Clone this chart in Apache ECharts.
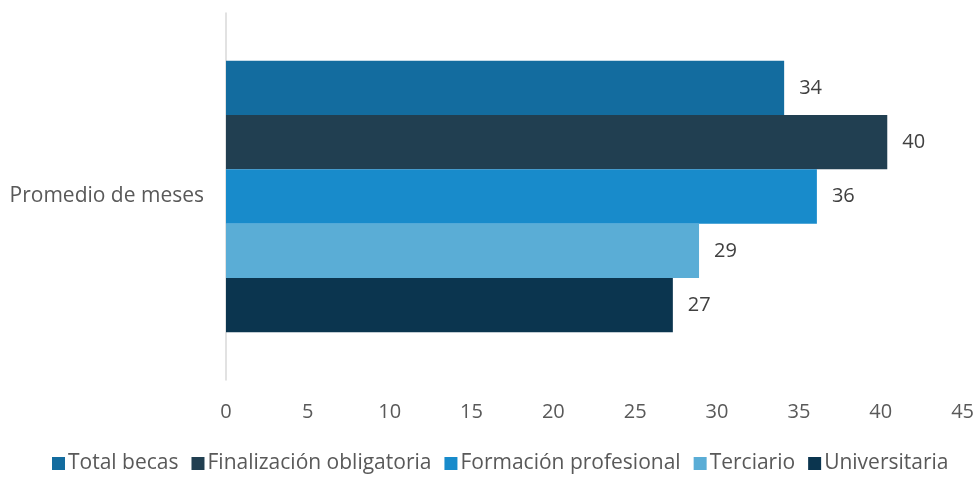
<!DOCTYPE html>
<html>
<head>
<meta charset="utf-8">
<script src="https://cdn.jsdelivr.net/npm/echarts@6/dist/echarts.min.js"></script>
<style>
  html, body { margin: 0; padding: 0; background: #fff; }
  #chart { width: 977px; height: 478px; }
</style>
</head>
<body>
<div id="chart"></div>
<script>
var categories = ['Promedio de meses']
var seriesNames = ['Total becas', 'Finalización obligatoria', 'Formación profesional', 'Terciario', 'Universitaria']
var seriesValues = [34.1, 40.4, 36.1, 28.9, 27.3]
var colors = ['#136C9F', '#213F51', '#188BCB', '#5AADD6', '#0B354F']
var xTicks = [0, 45, 5]  // min, max, interval

var fontName = '"Open Sans", "Noto Sans", sans-serif'

var series = []
for (var i = 0; i < seriesNames.length; i++) {
    series.push({
        name: seriesNames[i],
        type: 'bar',
        data: [seriesValues[i]],
        itemStyle: { color: colors[i] },
        barGap: '0%',
        barCategoryGap: '26%',
        label: {
            show: true,
            position: 'right',
            distance: 15,
            color: '#404040',
            fontSize: 20,
            fontFamily: fontName,
            formatter: function (p) { return Math.round(p.value) }
        }
    })
}

var chart = echarts.init(document.getElementById('chart'))

var option = {
    animation: false,
    color: colors,
    grid: {
        left: 226,
        right: 14,
        top: 13,
        bottom: 98,
        containLabel: false
    },
    legend: {
        top: 453,
        left: 52,
        padding: 0,
        itemWidth: 13,
        itemHeight: 13,
        itemGap: 13,
        icon: 'rect',
        textStyle: { color: '#595959', fontSize: 21, fontFamily: fontName, padding: [0, 0, 0, -2] },
        data: seriesNames
    },
    xAxis: {
        type: 'value',
        min: xTicks[0],
        max: xTicks[1],
        interval: xTicks[2],
        axisLine: { show: false },
        axisTick: { show: false },
        splitLine: { show: false },
        axisLabel: {
            color: '#595959',
            fontSize: 20,
            fontFamily: fontName,
            margin: 22
        }
    },
    yAxis: {
        type: 'category',
        inverse: true,
        data: categories,
        axisLine: { show: true, lineStyle: { color: '#d9d9d9', width: 1.5 } },
        axisTick: { show: false },
        axisLabel: {
            color: '#595959',
            fontSize: 21,
            fontFamily: fontName,
            margin: 22
        }
    },
    series: series
}

chart.setOption(option)
</script>
</body>
</html>
